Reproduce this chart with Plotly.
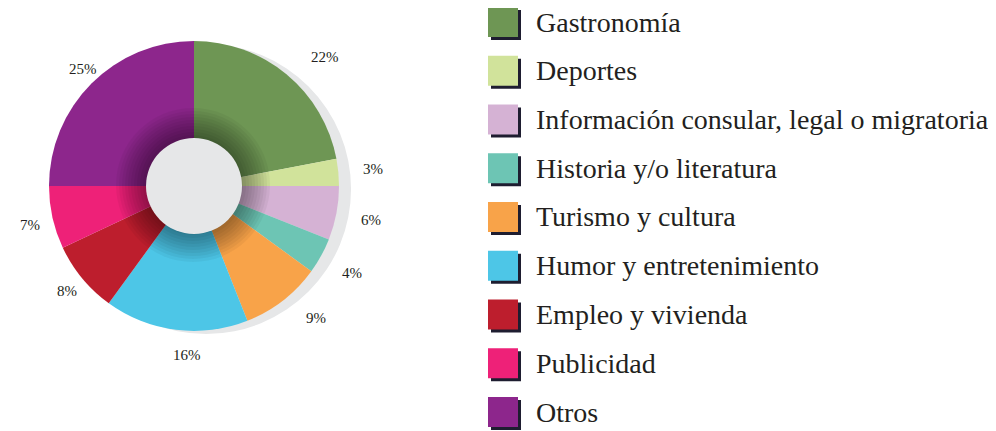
import math
import plotly.graph_objects as go

categories = ["Gastronomía", "Deportes", "Información consular, legal o migratoria",
              "Historia y/o literatura", "Turismo y cultura", "Humor y entretenimiento",
              "Empleo y vivienda", "Publicidad", "Otros"]
values = [22, 3, 6, 4, 9, 16, 8, 7, 25]
colors = ["#6e9654", "#d1e39b", "#d5b2d4", "#6dc5b4", "#f8a349", "#4dc6e7",
          "#bd1e2d", "#ee2178", "#8d268c"]

OFF = 8  # page body margin
W, H = 996 - OFF, 431 - OFF
CX, CY, R = 194, 186, 145
HOLE_R = 48
LABEL_R = 180
FONT = "Liberation Serif"
TXT = "#231f20"


def px(x):
    return (x - OFF) / W


def py(y):
    return 1 - (y - OFF) / H


def px_domain(cx, cy, r):
    return dict(x=[px(cx - r), px(cx + r)], y=[py(cy + r), py(cy - r)])


fig = go.Figure()

# drop shadow disc
fig.add_trace(go.Pie(values=[1], marker=dict(colors=["#e6e7e8"], line=dict(width=0)),
                     textinfo="none", hoverinfo="skip", showlegend=False, sort=False,
                     domain=px_domain(CX + 12, CY + 3, R)))

# main pie
fig.add_trace(go.Pie(labels=categories, values=values, sort=False, direction="clockwise",
                     marker=dict(colors=colors, line=dict(width=0)), textinfo="none",
                     showlegend=False, domain=px_domain(CX, CY, R)))

# inner shade rings around the hole
for k in range(10):
    rr = HOLE_R + 2 + 3.0 * k
    fig.add_trace(go.Pie(values=[1], marker=dict(colors=["rgba(0,0,0,0.045)"], line=dict(width=0)),
                         textinfo="none", hoverinfo="skip", showlegend=False, sort=False,
                         domain=px_domain(CX - 1, CY - 1, rr)))

# hole disc
fig.add_trace(go.Pie(values=[1], marker=dict(colors=["#e6e7e8"], line=dict(width=0)),
                     textinfo="none", hoverinfo="skip", showlegend=False, sort=False,
                     domain=px_domain(CX, CY, HOLE_R)))

# percentage labels outside
total = sum(values)
cum = 0
annotations = []
for v in values:
    mid = (cum + v / 2) / total * 2 * math.pi
    cum += v
    x = CX + LABEL_R * math.sin(mid)
    y = CY - LABEL_R * math.cos(mid)
    annotations.append(dict(x=px(x), y=py(y), xref="paper", yref="paper",
                            text=f"{v}%", showarrow=False,
                            font=dict(family=FONT, size=15, color=TXT)))

# custom legend
shapes = []
top, step = 22, 48.75
for i, (cat, col) in enumerate(zip(categories, colors)):
    yc = top + i * step
    x0, x1 = 488, 518
    y0, y1 = yc - 15, yc + 15
    shapes.append(dict(type="rect", xref="paper", yref="paper",
                       x0=px(x0 + 3), x1=px(x1 + 3), y0=py(y1 + 3), y1=py(y0 + 3),
                       fillcolor="#1e1d30", line=dict(width=0)))
    shapes.append(dict(type="rect", xref="paper", yref="paper",
                       x0=px(x0), x1=px(x1), y0=py(y1), y1=py(y0),
                       fillcolor=col, line=dict(width=0)))
    annotations.append(dict(x=px(534), y=py(yc), xref="paper", yref="paper",
                            xanchor="left", yanchor="middle", text=cat, showarrow=False,
                            font=dict(family=FONT, size=28, color=TXT)))

fig.update_layout(width=W, height=H, margin=dict(l=0, r=0, t=0, b=0),
                  paper_bgcolor="white", plot_bgcolor="white",
                  annotations=annotations, shapes=shapes, showlegend=False)

fig.write_html("out.html")
